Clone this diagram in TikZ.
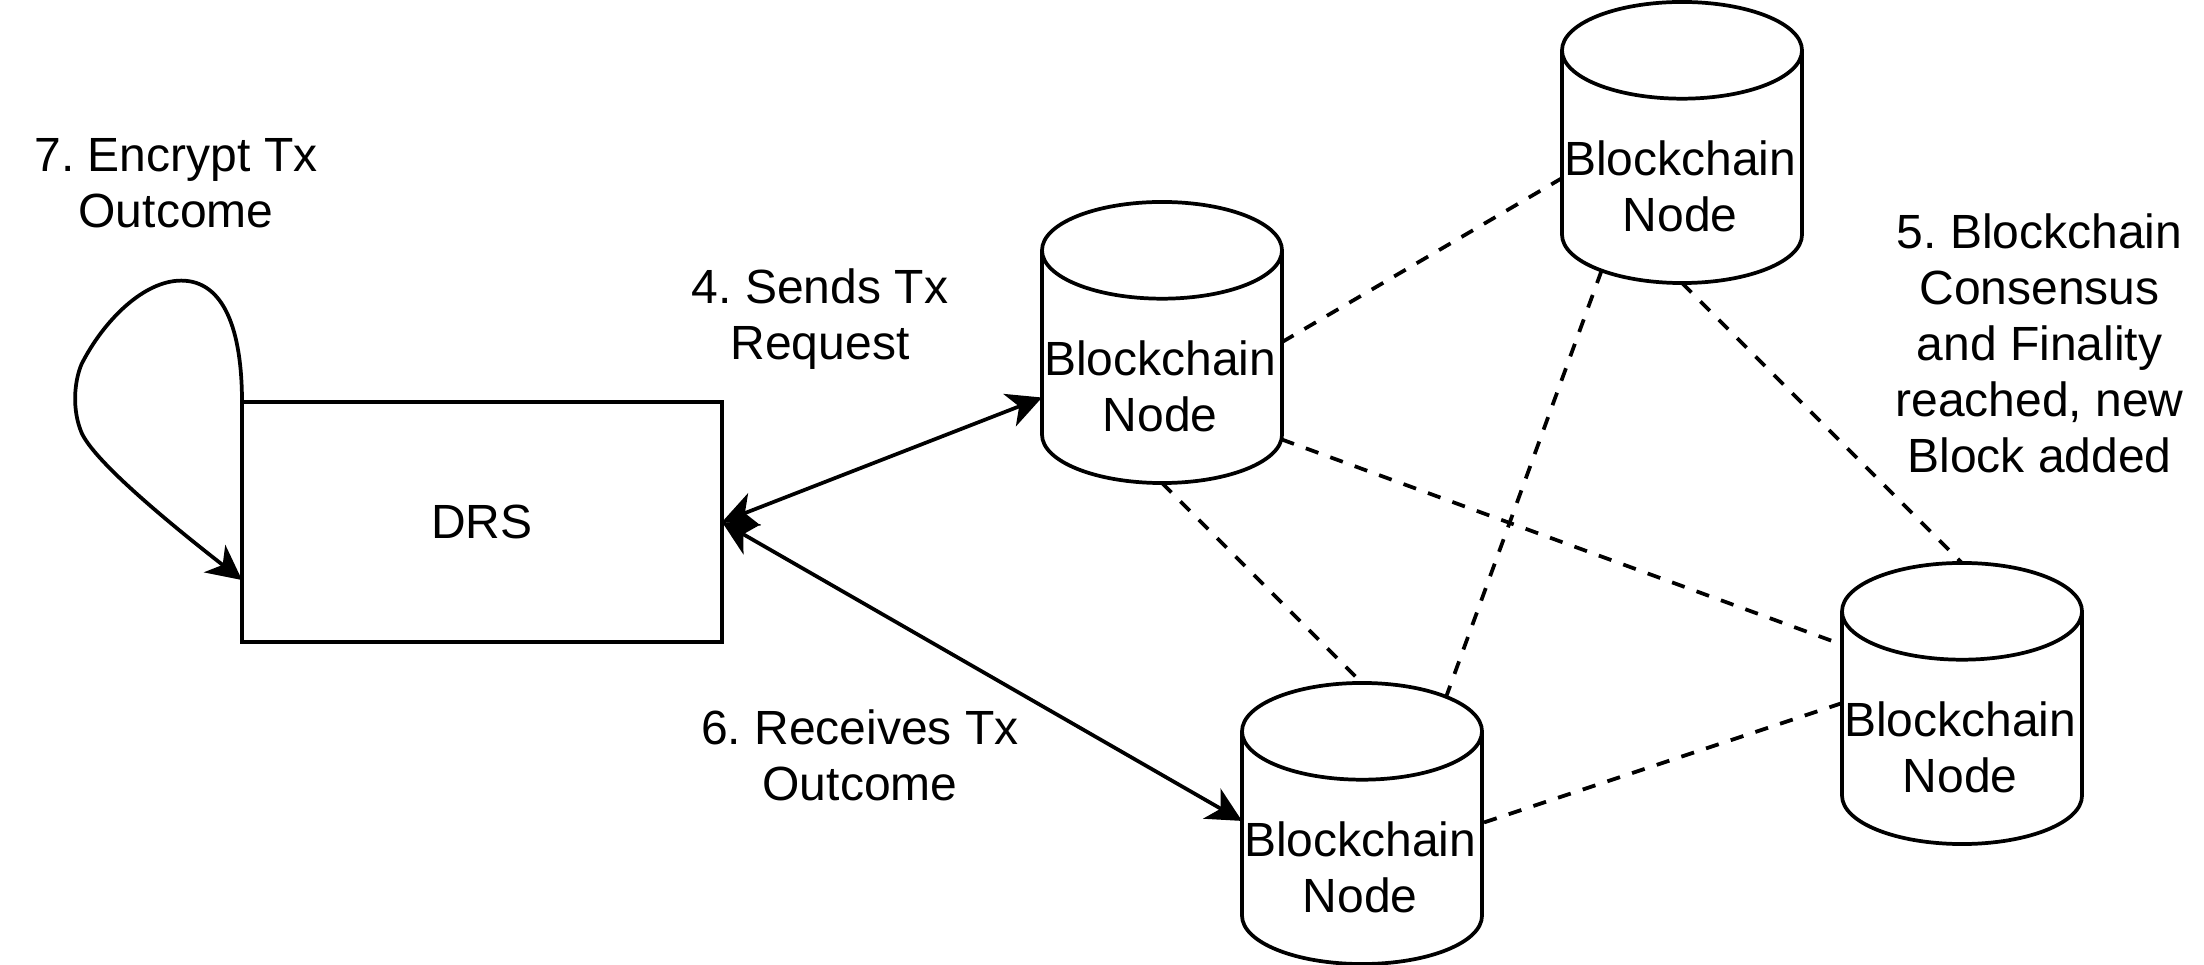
\documentclass[tikz,border=0pt]{standalone}
\usepackage{fontspec}
\setmainfont{Liberation Sans}
\usetikzlibrary{shapes.geometric,arrows.meta,positioning}
\tikzset{
	txt/.style={align=center,inner sep=0pt,font=\frenchspacing\fontsize{18}{21}\selectfont},
	drsbox/.style={draw,line width=1.4pt,minimum width=180pt,minimum height=90pt,txt},
	bnode/.style={draw,line width=1.4pt,outer sep=0pt,shape=cylinder,shape border rotate=90,aspect=0.4167,minimum width=90pt,minimum height=105.4pt,txt},
	btxt/.style={txt,xshift=-.7pt,yshift=-7.2pt},
	link/.style={line width=1.4pt,dash pattern=on 5pt off 4.75pt},
	flow/.style={line width=1.4pt,{Stealth[length=13pt,width=13pt,inset=3.8pt]}-{Stealth[length=13pt,width=13pt,inset=3.8pt]}},
	loopflow/.style={line width=1.4pt,-{Stealth[length=13pt,width=13pt,inset=3.8pt]}}
}
\begin{document}
\begin{tikzpicture}[x=.75pt,y=-.75pt]
	\useasboundingbox (0,0) rectangle (1102,482);
	\node[drsbox,outer sep=0pt](DRS) at (241,261){DRS};
	\foreach \x/\y [count=\n] in {581/183.8,841/83.8,981/364.3,681/424.3}
		\node[bnode,label={[btxt]center:Blockchain\\Node}](BN\n) at (\x,\y){\phantom{Blockchain}};
	\foreach \a/\b in {BN1.12.3/BN2.185.6,BN1.329.5/BN3.145.9,BN1.south/BN4.north,BN2.232.5/BN4.61.3,BN2.south/BN3.north,BN3.168.3/BN4.12.3}
		\draw[link] (\a) -- (\b);
	\draw[flow] (DRS.east) -- (BN1.194.8);
	\draw[flow] (DRS.east) -- (BN4.167.7);
	\coordinate (loopin) at (121,290);
	\draw[loopflow] (DRS.north west) .. controls (121,165) and (112,140.3) .. (90.6,140.3) .. controls (72,140.3) and (52,160) .. (40.8,182) .. controls (37,191) and (36,205) .. (40.8,216.4) .. controls (47,230) and (80,258) .. (loopin);
	\node[txt](L7) at (88,91.8){7. Encrypt Tx\\Outcome};
	\node[txt](L4) at (410,159.7){4. Sends Tx\\Request};
	\node[txt](L6) at (430,377.8){6. Receives Tx\\Outcome};
	\node[txt](L5) at (1019.8,171.5){5. Blockchain\\Consensus\\and Finality\\reached, new\\Block added};
\end{tikzpicture}
\end{document}
